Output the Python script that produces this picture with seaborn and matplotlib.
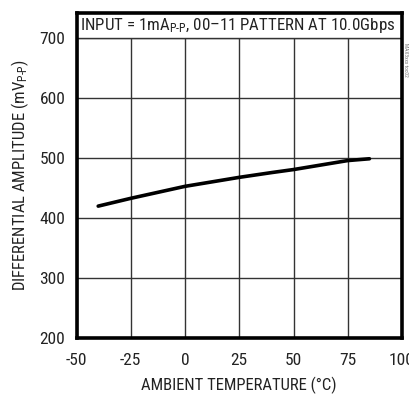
import matplotlib
matplotlib.use("Agg")
import matplotlib.pyplot as plt
import seaborn as sns
import pandas as pd
from matplotlib.patches import Rectangle

temperature = [-40, -25, -10, 0, 10, 25, 40, 50, 60, 75, 85]
amplitude = [420, 433, 445, 453, 459, 468, 476, 481, 487, 496, 499]
x_ticks = [-50, -25, 0, 25, 50, 75, 100]
y_ticks = [200, 300, 400, 500, 600, 700]

sns.set_theme(style="white")
FONT = 'Roboto Condensed'
plt.rcParams['font.family'] = [FONT, 'DejaVu Sans']
plt.rcParams['mathtext.fontset'] = 'custom'
plt.rcParams['mathtext.rm'] = FONT
plt.rcParams['mathtext.it'] = FONT
plt.rcParams['mathtext.default'] = 'regular'

fig = plt.figure(figsize=(4.09, 3.98), dpi=100)
ax = fig.add_axes([76.5/409, 1 - 338/398, (402-76.5)/409, (338-12.5)/398])

df = pd.DataFrame({"T": temperature, "A": amplitude})
sns.lineplot(data=df, x="T", y="A", ax=ax, color="black", linewidth=2.6, zorder=3)

ax.set_xlim(-50, 100)
ax.set_ylim(200, 743)
ax.set_xticks(x_ticks)
ax.set_yticks(y_ticks)
ax.set_xticklabels([str(v) for v in x_ticks])
ax.set_yticklabels([str(v) for v in y_ticks])
ax.tick_params(length=0, labelsize=12.5, colors="#222222")
ax.tick_params(axis="x", pad=11)
ax.tick_params(axis="y", pad=8)
ax.grid(True, color="#333333", linewidth=1.0)
ax.set_axisbelow(True)
for s in ax.spines.values():
    s.set_linewidth(2.6)
    s.set_color("black")

# header band covering gridlines above 700
ax.add_patch(Rectangle((-50, 700), 150, 43, facecolor="white", edgecolor="none", zorder=2))
ax.axhline(700, color="#333333", linewidth=1.0, zorder=2.5)
ax.text(-48.5, 721, r"INPUT = 1mA$_{\text{P-P}}$, 00–11 PATTERN AT 10.0Gbps",
        fontsize=12.2, color="#222222", va="center", ha="left", zorder=4)

ax.set_xlabel("AMBIENT TEMPERATURE (°C)", fontsize=12, color="#222222", labelpad=6)
ax.set_ylabel(r"DIFFERENTIAL AMPLITUDE (mV$_{\text{P-P}}$)", fontsize=12, color="#222222", labelpad=6)

fig.text(405/409, 1 - 60/398, "MAX3xxx toc02", rotation=270, fontsize=4, color="#777777",
         va="center", ha="center")

fig.savefig("out.png", dpi=100)
